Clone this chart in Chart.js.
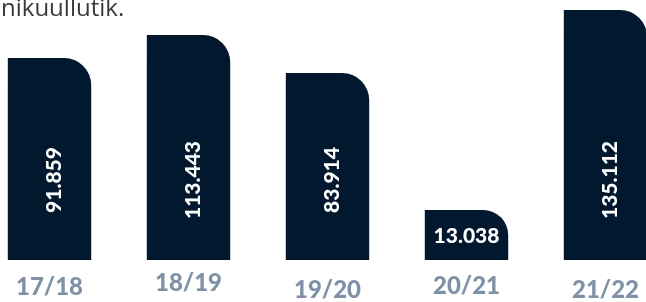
<!DOCTYPE html>
<html>
<head>
<meta charset="utf-8">
<script src="https://cdn.jsdelivr.net/npm/chart.js@4.4.1/dist/chart.umd.min.js"></script>
<style>
  body { margin: 0; width: 646px; height: 302px; overflow: hidden; background: #fff; position: relative; }
  #wrap { position: absolute; left: -20px; top: 0; width: 695px; height: 302px; }
</style>
</head>
<body>
<div id="wrap"><canvas id="seasons"></canvas></div>
<script>
const seasons = ['17/18', '18/19', '19/20', '20/21', '21/22'];
// printed numbers on the bars
const valueLabels = ['91.859', '113.443', '83.914', '13.038', '135.112'];
// bar heights as drawn in the picture (not to scale with the printed numbers)
const barHeights = [202, 225, 187, 50, 250];
const headText = 'nikuullutik.';

const navy = '#02182f';
const slate = '#7d91aa';

// small up/down shifts of the season labels, as in the picture
const labelNudge = [0, -4, 3, -1, 3];

const barText = {
  id: 'barText',
  afterDatasetsDraw(chart) {
    const ctx = chart.ctx;
    const bars = chart.getDatasetMeta(0).data;
    ctx.save();
    ctx.fillStyle = '#ffffff';
    ctx.font = '900 21px Lato';
    bars.forEach((bar, i) => {
      const h = bar.base - bar.y;
      if (h > 100) {
        ctx.save();
        ctx.translate(bar.x + 11, bar.base - 80);
        ctx.rotate(-Math.PI / 2);
        ctx.textAlign = 'center';
        ctx.textBaseline = 'alphabetic';
        ctx.fillText(valueLabels[i], 0, 0);
        ctx.restore();
      } else {
        ctx.textAlign = 'center';
        ctx.textBaseline = 'middle';
        ctx.fillText(valueLabels[i], bar.x, (bar.y + bar.base) / 2 + 1);
      }
    });
    // season labels under the bars
    const xScale = chart.scales.x;
    ctx.fillStyle = slate;
    ctx.font = '900 24px Lato';
    ctx.textAlign = 'center';
    ctx.textBaseline = 'middle';
    seasons.forEach((s, i) => {
      ctx.fillText(s, xScale.getPixelForValue(i), chart.chartArea.bottom + 27 + labelNudge[i]);
    });
    // cut-off line of text above the chart
    ctx.fillStyle = '#3a3a3a';
    ctx.font = '24px "Open Sans"';
    ctx.textAlign = 'left';
    ctx.textBaseline = 'alphabetic';
    ctx.fillText(headText, 21, 16);
    ctx.restore();
  }
};

const ctx = document.getElementById('seasons').getContext('2d');
new Chart(ctx, {
  type: 'bar',
  data: {
    labels: seasons,
    datasets: [
      {
        data: barHeights,
        backgroundColor: navy,
        borderWidth: 0,
        borderRadius: { topLeft: 0, topRight: 27, bottomLeft: 0, bottomRight: 0 },
        borderSkipped: 'start',
        barPercentage: 0.6,
        categoryPercentage: 1
      }
    ]
  },
  options: {
    responsive: true,
    maintainAspectRatio: false,
    animation: false,
    layout: {
      padding: { top: 10, bottom: 42, left: 0, right: 0 }
    },
    scales: {
      x: { display: false },
      y: { display: false, min: 0, max: 250 }
    },
    plugins: {
      legend: { display: false },
      tooltip: { enabled: false }
    }
  },
  plugins: [barText]
});
</script>
</body>
</html>
